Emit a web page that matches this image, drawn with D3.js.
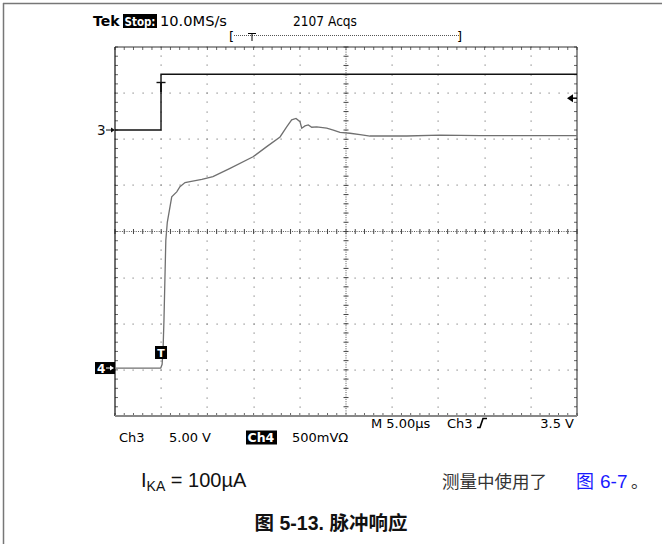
<!DOCTYPE html>
<html><head><meta charset="utf-8">
<script src="https://cdn.jsdelivr.net/npm/d3@7"></script>
<style>body{margin:0;background:#fff}svg{display:block}</style>
</head><body>
<svg id="c" width="662" height="544"></svg>
<script>
// ---- data (time in µs, level in screen divisions from centre) ----
const ch3Time = [0, 4.98, 4.98, 50];
const ch3Div  = [2.20, 2.20, 3.41, 3.41];
const ch4Time = [0, 4.95, 5.1, 5.2, 5.3, 5.4, 5.5, 5.66, 6.14, 6.68, 7.03, 7.58, 8.12, 9.4, 10.6, 12.45, 14.94, 16.42, 17.86, 18.58, 19.12, 19.59, 20.02, 20.21, 20.56, 20.92, 21.29, 21.83, 22.91, 23.63, 24.35, 25.43, 26.52, 27.6, 29.76, 31.57, 35.17, 39.5, 43.83, 50];
const ch4Div  = [-2.96, -2.96, -2.88, -2.57, -1.92, -1.05, -0.19, 0.20, 0.75, 0.86, 0.97, 1.06, 1.08, 1.13, 1.19, 1.37, 1.62, 1.84, 2.05, 2.27, 2.42, 2.45, 2.38, 2.24, 2.29, 2.31, 2.26, 2.27, 2.24, 2.20, 2.15, 2.13, 2.10, 2.07, 2.07, 2.07, 2.09, 2.08, 2.08, 2.08];
const refMarkerDiv = 2.89;
const headerLabels = ["Tek", "Stop:", "10.0MS/s", "2107 Acqs"];
const footRow1 = ["M 5.00µs", "Ch3", "3.5 V"];
const footRow2 = ["Ch3", "5.00 V", "Ch4", "500mVΩ"];
const captionCond = ["I", "KA", " = 100µA"];
const captionNote = ["测量中使用了", "图 6-7", "。"];
const figTitle = "图 5-13. 脉冲响应";

const svg = d3.select("#c");
const x = d3.scaleLinear().domain([0, 50]).range([115, 577]);
const y = d3.scaleLinear().domain([-4, 4]).range([416, 47]);
const scopeFont = "'DejaVu Sans', sans-serif";

// outer frame
svg.append("line").attr("x1",3.5).attr("x2",3.5).attr("y1",3).attr("y2",544).attr("stroke","#777").attr("stroke-width",1.5);
svg.append("line").attr("x1",3).attr("x2",662).attr("y1",3.5).attr("y2",3.5).attr("stroke","#777").attr("stroke-width",1.5);

// graticule
const g = svg.append("g");
const majorX = d3.range(5, 50, 5).filter(d => d !== 25);
const majorY = d3.range(-3, 4, 1).filter(d => d !== 0);
const minorX = d3.range(0, 50.001, 1);
const minorY = d3.range(-4, 4.001, 0.2);
majorX.forEach(mx => {
  g.selectAll(null).data(minorY).enter().append("rect")
    .attr("x", Math.round(x(mx)) - 0.5).attr("y", d => Math.round(y(d)) - 0.5)
    .attr("width", 1.2).attr("height", 1.2).attr("fill", "#888");
});
majorY.forEach(my => {
  g.selectAll(null).data(minorX).enter().append("rect")
    .attr("x", d => Math.round(x(d)) - 0.5).attr("y", Math.round(y(my)) - 0.5)
    .attr("width", 1.2).attr("height", 1.2).attr("fill", "#888");
});
g.append("line").attr("x1", x(0)).attr("x2", x(50)).attr("y1", y(0)).attr("y2", y(0))
  .attr("stroke", "#555").attr("stroke-dasharray", "1,1.3");
g.append("line").attr("x1", x(25)).attr("x2", x(25)).attr("y1", y(-4)).attr("y2", y(4))
  .attr("stroke", "#555").attr("stroke-dasharray", "1,1.3");
g.selectAll(null).data(minorX).enter().append("line")
  .attr("x1", d => x(d)).attr("x2", d => x(d)).attr("y1", y(0) - 2.5).attr("y2", y(0) + 2.5)
  .attr("stroke", "#444");
g.selectAll(null).data(minorY).enter().append("line")
  .attr("y1", d => y(d)).attr("y2", d => y(d)).attr("x1", x(25) - 2.5).attr("x2", x(25) + 2.5)
  .attr("stroke", "#444");
g.selectAll(null).data(minorX).enter().append("line")
  .attr("x1", d => x(d)).attr("x2", d => x(d)).attr("y1", y(4)).attr("y2", y(4) + 3).attr("stroke", "#666");
g.selectAll(null).data(minorX).enter().append("line")
  .attr("x1", d => x(d)).attr("x2", d => x(d)).attr("y1", y(-4)).attr("y2", y(-4) - 3).attr("stroke", "#666");
g.selectAll(null).data(minorY).enter().append("line")
  .attr("y1", d => y(d)).attr("y2", d => y(d)).attr("x1", x(0)).attr("x2", x(0) + 3).attr("stroke", "#666");
g.selectAll(null).data(minorY).enter().append("line")
  .attr("y1", d => y(d)).attr("y2", d => y(d)).attr("x1", x(50)).attr("x2", x(50) - 3).attr("stroke", "#666");
g.append("line").attr("x1", x(0)).attr("x2", x(50)).attr("y1", y(4)).attr("y2", y(4)).attr("stroke", "#333");
g.append("line").attr("x1", x(0)).attr("x2", x(0)).attr("y1", y(4)).attr("y2", y(-4)).attr("stroke", "#111").attr("stroke-width", 1.2);
g.append("line").attr("x1", x(50)).attr("x2", x(50)).attr("y1", y(4)).attr("y2", y(-4)).attr("stroke", "#222");
g.append("line").attr("x1", x(0)).attr("x2", x(50)).attr("y1", y(-4)).attr("y2", y(-4)).attr("stroke", "#888").attr("stroke-width", 2);

// traces
const line = d3.line().x(d => x(d[0])).y(d => y(d[1]));
svg.append("path").datum(d3.zip(ch4Time, ch4Div)).attr("d", line)
  .attr("fill", "none").attr("stroke", "#707070").attr("stroke-width", 1.3);
svg.append("path").datum(d3.zip(ch3Time, ch3Div)).attr("d", line)
  .attr("fill", "none").attr("stroke", "#111").attr("stroke-width", 1.4);

// trigger T on ch3
const tX = x(ch3Time[1]);
svg.append("line").attr("x1", tX - 4.5).attr("x2", tX + 4.5).attr("y1", 82.5).attr("y2", 82.5).attr("stroke", "#111").attr("stroke-width", 1.4);
svg.append("line").attr("x1", tX).attr("x2", tX).attr("y1", 82).attr("y2", 92).attr("stroke", "#111").attr("stroke-width", 1.8);
svg.append("rect").attr("x", tX - 6).attr("y", 346).attr("width", 12).attr("height", 13).attr("fill", "#000");
svg.append("text").attr("x", tX).attr("y", 357).attr("text-anchor", "middle").attr("fill", "#fff")
  .style("font", "bold 11px " + scopeFont).text("T");

// channel markers
svg.append("text").attr("x", 97).attr("y", y(ch3Div[0]) + 5).style("font", "13.5px " + scopeFont).attr("fill", "#111").text("3");
svg.append("line").attr("x1", 106).attr("x2", 112).attr("y1", y(ch3Div[0])).attr("y2", y(ch3Div[0])).attr("stroke", "#111");
svg.append("path").attr("d", `M${115},${y(ch3Div[0])} l-4,-2.5 v5 z`).attr("fill", "#111");
const y4 = y(ch4Div[0]);
svg.append("rect").attr("x", 95).attr("y", y4 - 6).attr("width", 20).attr("height", 12).attr("fill", "#000");
svg.append("text").attr("x", 97).attr("y", y4 + 4.5).style("font", "bold 12px " + scopeFont).attr("fill", "#fff").text("4");
svg.append("line").attr("x1", 106).attr("x2", 112).attr("y1", y4).attr("y2", y4).attr("stroke", "#fff");
svg.append("path").attr("d", `M${114},${y4} l-4,-2.5 v5 z`).attr("fill", "#fff");
const yr = y(refMarkerDiv);
svg.append("path").attr("d", `M${567},${yr} l6,-4 v8 z`).attr("fill", "#000");
svg.append("line").attr("x1", 570).attr("x2", 577).attr("y1", yr).attr("y2", yr).attr("stroke", "#000").attr("stroke-width", 1.5);

// header
svg.append("text").attr("x", 93).attr("y", 26).style("font", "bold 14px " + scopeFont).attr("fill", "#000").text(headerLabels[0]);
svg.append("rect").attr("x", 123).attr("y", 14).attr("width", 34).attr("height", 14).attr("fill", "#000");
svg.append("text").attr("x", 124.5).attr("y", 26).attr("textLength", 31).attr("lengthAdjust", "spacingAndGlyphs")
  .style("font", "bold 13px " + scopeFont).attr("fill", "#fff").text(headerLabels[1]);
svg.append("text").attr("x", 160).attr("y", 26).attr("textLength", 67).attr("lengthAdjust", "spacingAndGlyphs")
  .style("font", "14px " + scopeFont).attr("fill", "#000").text(headerLabels[2]);
svg.append("text").attr("x", 293).attr("y", 26).attr("textLength", 64).attr("lengthAdjust", "spacingAndGlyphs")
  .style("font", "14px " + scopeFont).attr("fill", "#000").text(headerLabels[3]);
svg.append("text").attr("x", 229).attr("y", 41).style("font", "13px " + scopeFont).attr("fill", "#000").text("[");
svg.append("text").attr("x", 457).attr("y", 41).style("font", "13px " + scopeFont).attr("fill", "#000").text("]");
svg.append("line").attr("x1", 234).attr("x2", 459).attr("y1", 35.5).attr("y2", 35.5).attr("stroke", "#555").attr("stroke-dasharray", "1,1");
svg.append("line").attr("x1", 248).attr("x2", 256).attr("y1", 33.5).attr("y2", 33.5).attr("stroke", "#000");
svg.append("line").attr("x1", 252).attr("x2", 252).attr("y1", 33.5).attr("y2", 41).attr("stroke", "#000");

// footer rows
const f1 = 428, f2 = 442;
svg.append("text").attr("x", 371).attr("y", f1).style("font", "13px " + scopeFont).text(footRow1[0]);
svg.append("text").attr("x", 447).attr("y", f1).style("font", "13px " + scopeFont).text(footRow1[1]);
svg.append("path").attr("d", `M477,${f1 - 0.5} h3 l3,-9 h4`).attr("fill", "none").attr("stroke", "#000").attr("stroke-width", 1.6);
svg.append("text").attr("x", 574).attr("y", f1).attr("text-anchor", "end").style("font", "13px " + scopeFont).text(footRow1[2]);
svg.append("text").attr("x", 119).attr("y", f2).style("font", "13px " + scopeFont).text(footRow2[0]);
svg.append("text").attr("x", 169).attr("y", f2).style("font", "13px " + scopeFont).text(footRow2[1]);
svg.append("rect").attr("x", 246).attr("y", f2 - 11.5).attr("width", 31).attr("height", 14).attr("fill", "#000");
svg.append("text").attr("x", 247.5).attr("y", f2).style("font", "bold 12.5px " + scopeFont).attr("fill", "#fff").text(footRow2[2]);
svg.append("text").attr("x", 292).attr("y", f2).style("font", "13px " + scopeFont).text(footRow2[3]);

// captions
const capFont = "'Liberation Sans', Arial, 'Noto Sans CJK SC', sans-serif";
const cjk = "'Noto Sans CJK SC', 'Liberation Sans', sans-serif";
const t1 = svg.append("text").attr("x", 141).attr("y", 487).style("font", "20px " + capFont).attr("fill", "#111");
t1.append("tspan").text(captionCond[0]);
t1.append("tspan").attr("dy", 4).style("font-size", "14px").text(captionCond[1]);
t1.append("tspan").attr("dy", -4).text(captionCond[2]);
svg.append("text").attr("x", 442).attr("y", 488).style("font", "17.5px " + cjk).attr("fill", "#333").text(captionNote[0]);
svg.append("text").attr("x", 576).attr("y", 488).style("font", "18px " + cjk).attr("fill", "#1a1aff").text(captionNote[1].split(" ")[0]);
svg.append("text").attr("x", 600).attr("y", 488).style("font", "19px " + capFont).attr("fill", "#1a1aff").text(captionNote[1].split(" ")[1]);
svg.append("text").attr("x", 631).attr("y", 488).style("font", "17px " + cjk).attr("fill", "#333").text(captionNote[2]);
svg.append("text").attr("x", 331).attr("y", 530).attr("text-anchor", "middle").style("font", "bold 19.5px " + capFont).attr("fill", "#111").text(figTitle);
</script>
</body></html>
